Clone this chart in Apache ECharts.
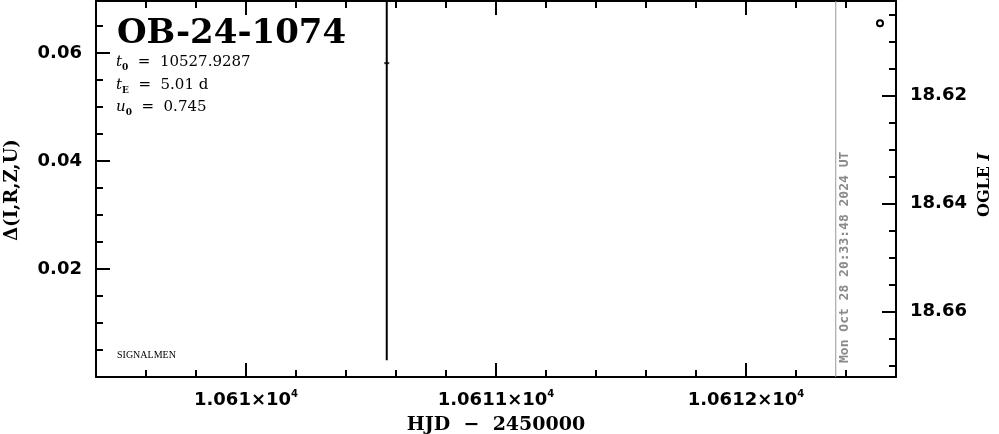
<!DOCTYPE html>
<html><head><meta charset="utf-8">
<script src="https://cdn.jsdelivr.net/npm/echarts@6/dist/echarts.min.js"></script>
<style>html,body{margin:0;padding:0;background:#fff}#c{width:999px;height:434px}</style>
</head><body><div id="c"></div>
<script>
// ---- data ----
const eventName = 'OB-24-1074';
const paramT0 = '10527.9287';
const paramTE = '5.01 d';
const paramU0 = '0.745';
const stampText = 'Mon Oct 28 20:33:48 2024 UT';
const stampHjd = [10612.359];
const hjdRange = [10609.4, 10612.6];
const hjdMajorTicks = [10610, 10611, 10612];
const hjdMinorTicks = [10609.6, 10609.8, 10610.2, 10610.4, 10610.6, 10610.8, 10611.2, 10611.4, 10611.6, 10611.8, 10612.2, 10612.4];
const deltaRange = [0, 0.0696];
const deltaMajorTicks = [0.02, 0.04, 0.06];
const deltaMinorTicks = [0.005, 0.01, 0.015, 0.025, 0.03, 0.035, 0.045, 0.05, 0.055, 0.065];
const magRange = [18.6025, 18.6721];
const magMajorTicks = [18.62, 18.64, 18.66];
const magMinorTicks = [18.605, 18.61, 18.615, 18.625, 18.63, 18.635, 18.645, 18.65, 18.655, 18.665, 18.67];
// OGLE I photometry
const dotHjd = [10610.563];
const dotMag = [18.614];
const dotErr = [0.055];
const circHjd = [10612.536];
const circMag = [18.6066];
const circErr = [0.0005];

// ---- chart ----
const chart = echarts.init(document.getElementById('c'), null, {renderer: 'canvas'});
const BLACK = '#000';
const labelFont = {fontFamily: 'DejaVu Sans', fontWeight: 'bold', fontSize: 18, color: BLACK};

function xAxisDef(pos, ticks, len, showLine, showLabel) {
  return {
    type: 'value', position: pos, min: hjdRange[0], max: hjdRange[1], gridIndex: 0,
    axisLine: {show: showLine, lineStyle: {color: BLACK, width: 2}},
    axisTick: {show: true, inside: true, length: len, customValues: ticks, lineStyle: {color: BLACK, width: 2}},
    axisLabel: showLabel ? {
      show: true, customValues: ticks, margin: 12,
      formatter: v => '{b|' + String(Math.round(v) / 1e4) + '×10}{s|4}',
      rich: {
        b: {fontFamily: 'DejaVu Sans', fontWeight: 'bold', fontSize: 18, color: BLACK, verticalAlign: 'bottom', lineHeight: 20},
        s: {fontFamily: 'DejaVu Sans', fontWeight: 'bold', fontSize: 10, color: BLACK, verticalAlign: 'top', lineHeight: 20}
      }
    } : {show: false},
    splitLine: {show: false}, minorTick: {show: false}
  };
}
function yAxisDef(pos, range, ticks, len, showLine, showLabel, inverse) {
  return {
    type: 'value', position: pos, min: range[0], max: range[1], inverse: !!inverse, gridIndex: 0,
    axisLine: {show: showLine, onZero: false, lineStyle: {color: BLACK, width: 2}},
    axisTick: {show: true, inside: true, length: len, customValues: ticks, lineStyle: {color: BLACK, width: 2}},
    axisLabel: showLabel ? Object.assign({show: true, customValues: ticks, margin: 14,
      formatter: v => v.toFixed(2)}, labelFont) : {show: false},
    splitLine: {show: false}, minorTick: {show: false}
  };
}

function errRender(params, api) {
  const cs = params.coordSys;
  const x = api.value(0), m = api.value(1), e = api.value(2);
  const a = api.coord([x, m - e]), b = api.coord([x, m + e]);
  const clampY = y => Math.max(cs.y, Math.min(cs.y + cs.height, y));
  return {type: 'line', shape: {x1: a[0], y1: clampY(a[1]), x2: b[0], y2: clampY(b[1])},
    style: {stroke: BLACK, lineWidth: 2}};
}
function stampRender(params, api) {
  const cs = params.coordSys;
  const p = api.coord([api.value(0), magRange[0]]);
  return {type: 'group', children: [
    {type: 'line', shape: {x1: p[0], y1: cs.y, x2: p[0], y2: cs.y + cs.height},
      style: {stroke: '#999', lineWidth: 1}},
    {type: 'text', x: p[0] + 9, y: cs.y + cs.height - 14, rotation: Math.PI / 2,
      style: {text: stampText, fill: '#8a8a8a', font: 'bold 13px "DejaVu Sans Mono"', align: 'left', verticalAlign: 'middle'}}
  ]};
}

const subRich = {
  n: {fontFamily: 'DejaVu Serif', fontSize: 15, color: BLACK, lineHeight: 20, verticalAlign: 'middle'},
  i: {fontFamily: 'DejaVu Serif', fontStyle: 'italic', fontSize: 15, color: BLACK, lineHeight: 20, verticalAlign: 'middle'},
  s: {fontFamily: 'DejaVu Serif', fontSize: 9, fontWeight: 'bold', color: BLACK, lineHeight: 20, verticalAlign: 'bottom'}
};

chart.setOption({
  animation: false,
  backgroundColor: '#fff',
  grid: {left: 96, right: 103, top: 1, bottom: 57, containLabel: false},
  xAxis: [
    xAxisDef('bottom', hjdMajorTicks, 14, true, true),
    xAxisDef('bottom', hjdMinorTicks, 7, false, false),
    xAxisDef('top', hjdMajorTicks, 14, true, false),
    xAxisDef('top', hjdMinorTicks, 7, false, false)
  ],
  yAxis: [
    yAxisDef('left', deltaRange, deltaMajorTicks, 14, true, true, false),
    yAxisDef('left', deltaRange, deltaMinorTicks, 7, false, false, false),
    yAxisDef('right', magRange, magMajorTicks, 14, true, true, true),
    yAxisDef('right', magRange, magMinorTicks, 7, false, false, true)
  ],
  series: [
    {type: 'custom', xAxisIndex: 0, yAxisIndex: 2, silent: true, renderItem: stampRender,
      data: stampHjd.map(h => [h])},
    {type: 'custom', xAxisIndex: 0, yAxisIndex: 2, silent: true, renderItem: errRender,
      data: dotHjd.map((h, k) => [h, dotMag[k], dotErr[k]]).concat(circHjd.map((h, k) => [h, circMag[k], circErr[k]]))},
    {type: 'scatter', xAxisIndex: 0, yAxisIndex: 2, silent: true, symbol: 'rect', symbolSize: [5, 2],
      itemStyle: {color: BLACK}, data: dotHjd.map((h, k) => [h, dotMag[k]])},
    {type: 'scatter', xAxisIndex: 0, yAxisIndex: 2, silent: true, symbol: 'circle', symbolSize: 6,
      itemStyle: {color: '#ffffff', borderColor: '#000000', borderWidth: 2, opacity: 1}, data: circHjd.map((h, k) => [h, circMag[k]])}
  ],
  graphic: [
    {type: 'text', x: 117, y: 34, style: {text: eventName, font: 'bold 34px "DejaVu Serif"', fill: BLACK, align: 'left', verticalAlign: 'middle'}},
    {type: 'text', x: 116, y: 62, style: {text: '{i|t}{s|0}{n|  =  ' + paramT0 + '}', rich: subRich, align: 'left', verticalAlign: 'middle'}},
    {type: 'text', x: 116, y: 85, style: {text: '{i|t}{s|E}{n|  =  ' + paramTE + '}', rich: subRich, align: 'left', verticalAlign: 'middle'}},
    {type: 'text', x: 116, y: 107, style: {text: '{i|u}{s|0}{n|  =  ' + paramU0 + '}', rich: subRich, align: 'left', verticalAlign: 'middle'}},
    {type: 'text', x: 117, y: 355, style: {text: 'SIGNALMEN', font: '10px "Liberation Serif"', fill: BLACK, align: 'left', verticalAlign: 'middle'}},
    {type: 'text', x: 12, y: 190, rotation: Math.PI / 2, style: {text: 'Δ(I,R,Z,U)', font: 'bold 18px "DejaVu Serif"', fill: BLACK, align: 'center', verticalAlign: 'middle'}},
    {type: 'text', x: 985, y: 185, rotation: Math.PI / 2, style: {text: '{b|OGLE }{bi|I}', align: 'center', verticalAlign: 'middle',
      rich: {b: {fontFamily: 'DejaVu Serif', fontWeight: 'bold', fontSize: 16, color: BLACK},
             bi: {fontFamily: 'DejaVu Serif', fontWeight: 'bold', fontStyle: 'italic', fontSize: 16, color: BLACK}}}},
    {type: 'text', x: 496, y: 425, style: {text: 'HJD  −  2450000', font: 'bold 19px "DejaVu Serif"', fill: BLACK, align: 'center', verticalAlign: 'middle'}}
  ]
});
</script>
</body></html>
